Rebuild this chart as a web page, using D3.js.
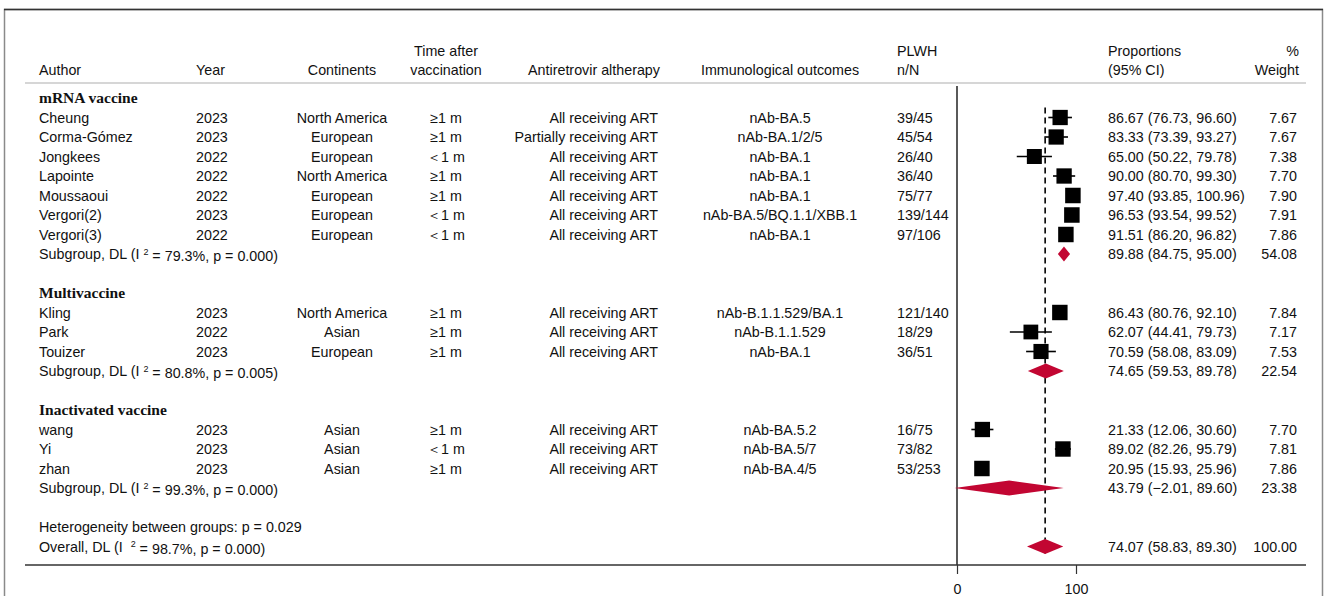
<!DOCTYPE html>
<html>
<head>
<meta charset="utf-8">
<script src="https://cdn.jsdelivr.net/npm/d3@7"></script>
<style>
  body { margin: 0; background: #fff; }
  text { font-family: "Liberation Sans", Arial, sans-serif; font-size: 14.3px; fill: #111; }
  text.grp { font-family: "Liberation Serif", "Times New Roman", serif; font-weight: bold; font-size: 15.5px; }
</style>
</head>
<body>
<svg id="chart" width="1328" height="596"></svg>
<script>
// ---- Study-level data ----
const authors = ["Cheung", "Corma-Gómez", "Jongkees", "Lapointe", "Moussaoui", "Vergori(2)", "Vergori(3)",
                 "Kling", "Park", "Touizer",
                 "wang", "Yi", "zhan"];
const years = ["2023", "2023", "2022", "2022", "2022", "2023", "2022",
               "2023", "2022", "2023",
               "2023", "2023", "2023"];
const continents = ["North America", "European", "European", "North America", "European", "European", "European",
                    "North America", "Asian", "European",
                    "Asian", "Asian", "Asian"];
const timeAfter = ["≥1 m", "≥1 m", "＜1 m", "≥1 m", "≥1 m", "＜1 m", "＜1 m",
                   "≥1 m", "≥1 m", "≥1 m",
                   "≥1 m", "＜1 m", "≥1 m"];
const artStatus = ["All receiving ART", "Partially receiving ART", "All receiving ART", "All receiving ART",
                   "All receiving ART", "All receiving ART", "All receiving ART",
                   "All receiving ART", "All receiving ART", "All receiving ART",
                   "All receiving ART", "All receiving ART", "All receiving ART"];
const outcomes = ["nAb-BA.5", "nAb-BA.1/2/5", "nAb-BA.1", "nAb-BA.1", "nAb-BA.1", "nAb-BA.5/BQ.1.1/XBB.1", "nAb-BA.1",
                  "nAb-B.1.1.529/BA.1", "nAb-B.1.1.529", "nAb-BA.1",
                  "nAb-BA.5.2", "nAb-BA.5/7", "nAb-BA.4/5"];
const plwh = ["39/45", "45/54", "26/40", "36/40", "75/77", "139/144", "97/106",
              "121/140", "18/29", "36/51",
              "16/75", "73/82", "53/253"];
const estimates = [86.67, 83.33, 65.00, 90.00, 97.40, 96.53, 91.51,
                   86.43, 62.07, 70.59,
                   21.33, 89.02, 20.95];
const lower = [76.73, 73.39, 50.22, 80.70, 93.85, 93.54, 86.20,
               80.76, 44.41, 58.08,
               12.06, 82.26, 15.93];
const upper = [96.60, 93.27, 79.78, 99.30, 100.96, 99.52, 96.82,
               92.10, 79.73, 83.09,
               30.60, 95.79, 25.96];
const weights = [7.67, 7.67, 7.38, 7.70, 7.90, 7.91, 7.86,
                 7.84, 7.17, 7.53,
                 7.70, 7.81, 7.86];

// ---- Subgroup pooled results ----
const groupNames = ["mRNA vaccine", "Multivaccine", "Inactivated vaccine"];
const groupSizes = [7, 3, 3];
const groupEst = [89.88, 74.65, 43.79];
const groupLower = [84.75, 59.53, -2.01];
const groupUpper = [95.00, 89.78, 89.60];
const groupWeight = [54.08, 22.54, 23.38];
const groupI2 = ["79.3%", "80.8%", "99.3%"];
const groupP = ["0.000", "0.005", "0.000"];

// ---- Overall pooled result ----
const overallEst = 74.07, overallLower = 58.83, overallUpper = 89.30, overallWeight = 100.00;
const overallI2 = "98.7%", overallP = "0.000";
const heterogeneityP = "0.029";

const axisTicks = [0, 100];

// ---- Build the row layout ----
const rows = [];
let idx = 0, s = 0;
groupNames.forEach((g, gi) => {
  rows.push({ type: "heading", i: idx++, label: g });
  for (let k = 0; k < groupSizes[gi]; k++, s++) rows.push({ type: "study", i: idx++, s });
  rows.push({ type: "subgroup", i: idx++, g: gi });
  idx++; // blank spacer row
});
rows.push({ type: "het", i: idx++ });
rows.push({ type: "overall", i: idx++ });

const svg = d3.select("#chart");
const y = d3.scaleLinear().domain([0, 1]).range([98, 117.5]);
const x = d3.scaleLinear().domain([0, 100]).range([957, 1076]);
const fmt = d3.format(".2f");

// Frame
svg.append("path").attr("d", "M4.5,596 V9.5 H1322.5 V596").attr("fill", "none")
  .attr("stroke", "#8a8a8a").attr("stroke-width", 1.5);
svg.append("line").attr("x1", 4).attr("x2", 1323).attr("y1", 9.5).attr("y2", 9.5)
  .attr("stroke", "#333").attr("stroke-width", 1.5);

// Column headers
const col = {
  author: { x: 39, anchor: "start" },
  year: { x: 196, anchor: "start" },
  cont: { x: 342, anchor: "middle" },
  time: { x: 446, anchor: "middle" },
  art: { x: 658, anchor: "end" },
  outc: { x: 780, anchor: "middle" },
  plwh: { x: 897, anchor: "start" },
  ci: { x: 1108, anchor: "start" },
  wt: { x: 1297, anchor: "end" }
};
const headers = [
  ["author", ["", "Author"]], ["year", ["", "Year"]], ["cont", ["", "Continents"]],
  ["time", ["Time after", "vaccination"]], ["art", ["", "Antiretrovir altherapy"]],
  ["outc", ["", "Immunological outcomes"]], ["plwh", ["PLWH", "n/N"]],
  ["ci", ["Proportions", "(95% CI)"]], ["wt", ["%", "Weight"]]
];
const hdrAnchor = { art: "middle", wt: "end" };
const hdrX = { art: 594, wt: 1299 };
headers.forEach(([key, lines]) => {
  lines.forEach((t, li) => {
    if (!t) return;
    svg.append("text")
      .attr("x", hdrX[key] !== undefined ? hdrX[key] : col[key].x)
      .attr("y", li === 0 ? 51 : 70).attr("dy", "0.35em")
      .attr("text-anchor", hdrAnchor[key] || col[key].anchor)
      .text(t);
  });
});
svg.append("line").attr("x1", 25).attr("x2", 1306).attr("y1", 83).attr("y2", 83)
  .attr("stroke", "#c8c8c8").attr("stroke-width", 1.5);

// Plot reference lines
svg.append("line").attr("x1", x(0)).attr("x2", x(0)).attr("y1", 86).attr("y2", 565)
  .attr("stroke", "#000").attr("stroke-width", 1.3);
svg.append("line").attr("x1", x(overallEst)).attr("x2", x(overallEst))
  .attr("y1", y(1) - 10).attr("y2", y(rows.length - 1 + 3) + 8)
  .attr("stroke", "#000").attr("stroke-width", 1.6).attr("stroke-dasharray", "6,4");

// Bottom rule and axis
svg.append("line").attr("x1", 25).attr("x2", 1306).attr("y1", 565).attr("y2", 565)
  .attr("stroke", "#333").attr("stroke-width", 1.5);
const axisG = svg.append("g").attr("transform", "translate(0,565)")
  .call(d3.axisBottom(x).tickValues(axisTicks).tickSize(9).tickPadding(10).tickFormat(d3.format("d")));
axisG.select(".domain").remove();
axisG.selectAll(".tick line").attr("stroke", "#333").attr("stroke-width", 1.2);
axisG.selectAll(".tick text").style("font-family", "'Liberation Sans', Arial, sans-serif")
  .style("font-size", "14.3px").attr("fill", "#111");

const diamondColor = "#c20632";
const boxK = 15.5 / Math.sqrt(7.9);
function diamond(est, lo, hi, yc) {
  const h = 7.5;
  return `M${x(lo)},${yc} L${x(est)},${yc - h} L${x(hi)},${yc} L${x(est)},${yc + h} Z`;
}
function cell(key, yc, t) {
  svg.append("text").attr("x", col[key].x).attr("y", yc).attr("dy", "0.35em")
    .attr("text-anchor", col[key].anchor).text(t);
}
function statLabel(yc, prefix, i2, p) {
  const t = svg.append("text").attr("x", col.author.x).attr("y", yc).attr("dy", "0.35em")
    .style("white-space", "pre");
  t.append("tspan").text(prefix);
  t.append("tspan").attr("dy", "-0.45em").style("font-size", "9px").text("2");
  t.append("tspan").attr("dy", "0.45em").text(` = ${i2}, p = ${p})`);
}

rows.forEach(r => {
  const yc = y(r.i);
  if (r.type === "heading") {
    svg.append("text").attr("class", "grp").attr("x", col.author.x).attr("y", yc).attr("dy", "0.35em").text(r.label);
  } else if (r.type === "study") {
    const k = r.s;
    cell("author", yc, authors[k]);
    cell("year", yc, years[k]);
    cell("cont", yc, continents[k]);
    cell("time", yc, timeAfter[k]);
    cell("art", yc, artStatus[k]);
    cell("outc", yc, outcomes[k]);
    cell("plwh", yc, plwh[k]);
    cell("ci", yc, `${fmt(estimates[k])} (${fmt(lower[k])}, ${fmt(upper[k])})`);
    cell("wt", yc, fmt(weights[k]));
    svg.append("line").attr("x1", x(lower[k])).attr("x2", x(Math.min(upper[k], 100)))
      .attr("y1", yc).attr("y2", yc).attr("stroke", "#000").attr("stroke-width", 1.6);
    const side = boxK * Math.sqrt(weights[k]);
    svg.append("rect").attr("x", x(estimates[k]) - side / 2).attr("y", yc - side / 2)
      .attr("width", side).attr("height", side).attr("fill", "#000");
  } else if (r.type === "subgroup") {
    const g = r.g;
    statLabel(yc, "Subgroup, DL (I ", groupI2[g], groupP[g]);
    cell("ci", yc, `${fmt(groupEst[g])} (${fmt(groupLower[g]).replace("-", "\u2212")}, ${fmt(groupUpper[g])})`);
    cell("wt", yc, fmt(groupWeight[g]));
    svg.append("path").attr("d", diamond(groupEst[g], groupLower[g], groupUpper[g], yc)).attr("fill", diamondColor);
  } else if (r.type === "het") {
    cell("author", yc, `Heterogeneity between groups: p = ${heterogeneityP}`);
  } else if (r.type === "overall") {
    statLabel(yc, "Overall, DL (I  ", overallI2, overallP);
    cell("ci", yc, `${fmt(overallEst)} (${fmt(overallLower)}, ${fmt(overallUpper)})`);
    cell("wt", yc, fmt(overallWeight));
    svg.append("path").attr("d", diamond(overallEst, overallLower, overallUpper, yc)).attr("fill", diamondColor);
  }
});
</script>
</body>
</html>
